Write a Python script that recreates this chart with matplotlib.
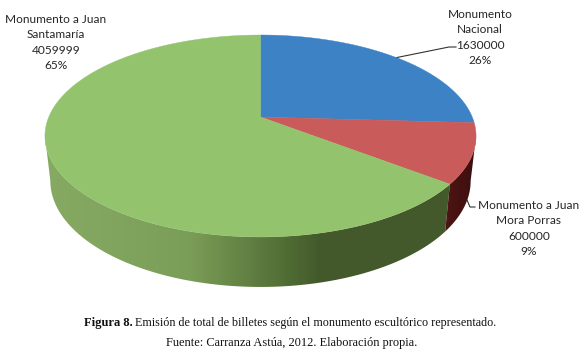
import numpy as np
import matplotlib
matplotlib.use('Agg')
import matplotlib.pyplot as plt
from matplotlib.colors import LinearSegmentedColormap
from matplotlib.patches import Polygon

# Data
names = ['Monumento\nNacional', 'Monumento a Juan\nMora Porras', 'Monumento a Juan\nSantamaría']
billetes = [1630000, 600000, 4059999]
percents = ['26%', '9%', '65%']
top_colors = ['#3c82c5', '#c95b5b', '#94c36e']

# Projection of the tilted disc, in image pixels
cx, cy = 260.5, 117
A, B, k = 211.7, 97.4, 0.188
depth, sx, sy = 44, 0.975, 1.05


def rim(theta, bottom=False):
    # theta is clockwise from 12 o'clock, in radians
    u, v = np.sin(theta), np.cos(theta)
    x = A * u / (1 + k * v)
    y = -B * v / (1 + k * v)
    if bottom:
        return cx + sx * x, cy + depth + sy * y
    return cx + x, cy + y


def side(ax, t0, t1, cmap):
    # Extruded wall between two angles, filled with a horizontal gradient
    th = np.linspace(t0, t1, 200)
    xt, yt = rim(th)
    xb, yb = rim(th[::-1], bottom=True)
    pts = np.column_stack([np.r_[xt, xb], np.r_[yt, yb]])
    poly = Polygon(pts, closed=True, fc='none', ec='none')
    ax.add_patch(poly)
    grad = np.linspace(0, 1, 584).reshape(1, -1)
    im = ax.imshow(grad, extent=(0, 584, 355, 0), cmap=cmap, vmin=0, vmax=1,
                   aspect='auto', zorder=1)
    im.set_clip_path(poly)


fig = plt.figure(figsize=(5.84, 3.55), dpi=100)
ax = fig.add_axes([0, 0, 1, 1])

# Side gradients: stops are fractions of the image width
green_side = LinearSegmentedColormap.from_list('green_side', [
    (0, '#86aa62'), (45 / 584, '#86aa62'), (100 / 584, '#82a55f'), (190 / 584, '#7a9d57'),
    (290 / 584, '#4f6b34'), (320 / 584, '#43592b'), (445 / 584, '#435a2b'), (1, '#435a2b')])
red_side = LinearSegmentedColormap.from_list('red_side', [
    (0, '#4f1513'), (445 / 584, '#4f1513'), (475 / 584, '#3d0f0e'), (1, '#3d0f0e')])

angles = np.r_[0, np.cumsum(billetes)] / sum(billetes) * 2 * np.pi

# The walls stop where the rim turns away from the viewer
edge = np.arccos(-k)
side(ax, angles[2], 2 * np.pi - edge, green_side)
side(ax, edge, angles[2], red_side)

for i, col in enumerate(top_colors):
    th = np.linspace(angles[i], angles[i + 1], 300)
    x, y = rim(th)
    pts = np.column_stack([np.r_[cx, x], np.r_[cy, y]])
    ax.add_patch(Polygon(pts, closed=True, fc=col, ec=col, lw=0.3, zorder=2))

# Labels
label_pos = [(480, 37.5), (529, 228.5), (56, 42.5)]
for name, val, pct, (lx, ly) in zip(names, billetes, percents, label_pos):
    ax.text(lx, ly, f'{name}\n{val}\n{pct}', ha='center', va='center', family='Lato',
            fontsize=8.6, color='#262626', linespacing=1.5, zorder=3)

# Leader lines
ax.plot([397, 449, 456], [57.5, 47, 47], color='#333333', lw=0.8, zorder=3)
ax.plot([467, 470, 475], [200, 207, 207], color='#333333', lw=0.8, zorder=3)

# Caption
serif = 'Liberation Serif'
ax.text(84, 323, 'Figura 8.', family=serif, fontweight='bold', fontsize=9,
        va='center', ha='left', color='#111111')
ax.text(135, 323, 'Emisión de total de billetes según el monumento escultórico representado.',
        family=serif, fontsize=8.75, va='center', ha='left', color='#111111')
ax.text(292, 343, 'Fuente: Carranza Astúa, 2012. Elaboración propia.', family=serif,
        fontsize=8.9, va='center', ha='center', color='#111111')

ax.set_xlim(0, 584)
ax.set_ylim(355, 0)
ax.axis('off')

fig.savefig('out.png', dpi=100)
